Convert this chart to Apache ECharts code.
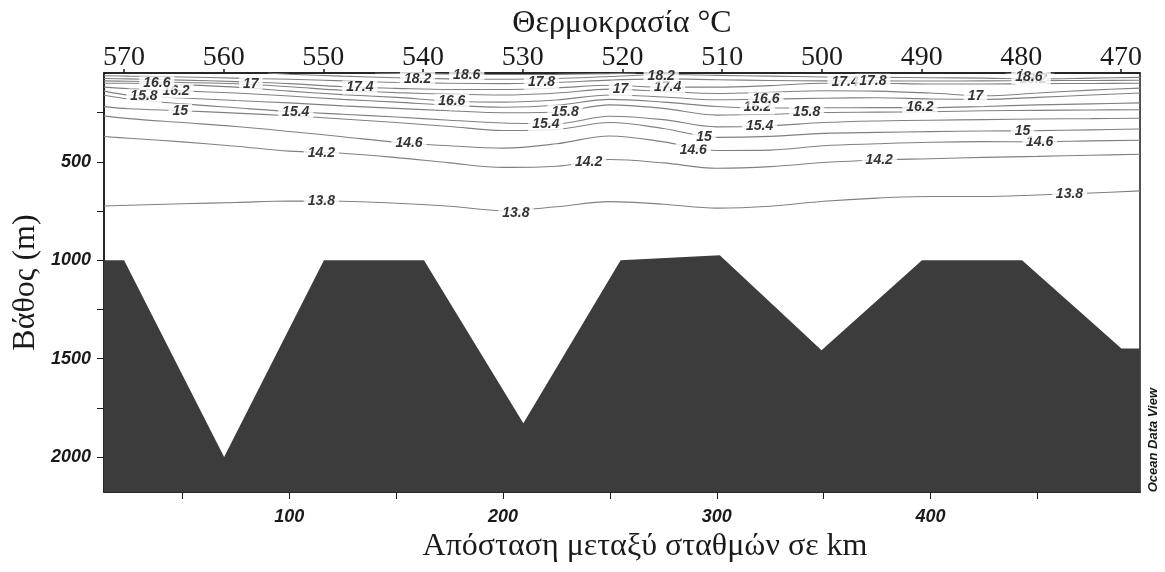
<!DOCTYPE html>
<html>
<head>
<meta charset="utf-8">
<script src="https://cdn.jsdelivr.net/npm/echarts@6/dist/echarts.min.js"></script>
<style>
html,body{margin:0;padding:0;background:#fff;}
#chart{width:1165px;height:572px;}
</style>
</head>
<body>
<div id="chart"></div>
<script>
// ---- data ----
const kmCols  = [13.3,25,50,75,100,125,150,175,200,225,250,275,300,325,350,375,400,425,450,475,498];
const iso13_8 = [724,720,713,706,699,700,710,725,748,728,702,715,735,725,700,684,676,676,668,658,647];
const iso14_2 = [371,380,398,420,445,456,478,505,528,522,488,505,532,524,503,490,484,477,472,466,461];
const iso14_6 = [266,280,300,320,345,372,400,418,430,408,368,398,442,440,418,408,400,397,398,393,390];
const iso15   = [219,230,240,252,265,282,300,320,340,335,300,330,375,370,355,350,346,343,341,337,333];
const iso15_4 = [161,180,205,225,244,258,272,288,302,305,268,285,322,316,300,292,288,285,282,280,278];
const iso15_8 = [140,160,175,188,200,215,228,240,250,246,210,228,262,258,249,247,245,240,238,236,235];
const iso16_2 = [120,128,139,150,165,182,196,212,222,212,182,196,218,226,225,224,224,218,210,205,200];
const iso16_6 = [100,100,108,120,140,158,172,190,196,185,160,170,184,181,176,174,180,182,172,160,150];
const iso17   = [88,90,96,103,118,136,148,156,160,150,130,142,152,146,138,140,150,164,150,135,125];
const iso17_4 = [76,78,84,92,102,118,126,132,132,124,110,120,120,112,100,100,104,104,102,101,100];
const iso17_8 = [62,64,68,74,80,88,96,100,102,96,84,78,82,86,88,88,89,88,87,86,85];
const km18_2  = [90,100,125,150,175,200,225,250,275,300,325,350,375,400,425,450,475,498];
const iso18_2 = [48,54,64,72,78,80,76,66,56,60,64,68,70,72,74,78,74,70];
const km18_6a = [140,160,180,200,225,250,262];
const iso18_6a= [48,51,54,56,55,51,48];
const km18_6b = [435,446,458];
const iso18_6b= [48,58,48];

const labelText  = ['13.8','13.8','13.8','14.2','14.2','14.2','14.6','14.6','14.6','15','15','15','15.4','15.4','15.4','15.8','15.8','15.8','16.2','16.2','16.2','16.6','16.6','16.6','17','17','17','17.4','17.4','17.4','17.8','17.8','18.2','18.2','18.2','18.6','18.6'];
const labelKm    = [115,206,465,115,240,376,156,289,451,49,294,443,103,220,320,32,229,342,47,319,395,38,176,323,82,255,421,133,277,360,218,373,160,274,448,183,446];
const labelDepth = [698,758,662,456,503,490,405,440,400,240,376,342,246,308,317,168,246,249,139,224,224,100,190,181,105,130,164,122,122,97,97,88,79,62,79,60,70];

const bathyKm    = [13.3,22.7,69.5,116.2,163,209.5,255,301.4,349,396,442.8,489.3,498];
const bathyDepth = [1000,1000,2000,1000,1000,1829,1000,975,1457,1000,1000,1448,1448];

const kmTicks      = [50,100,150,200,250,300,350,400,450];
const kmLabels     = [100,200,300,400];
const depthTicks   = [250,500,750,1000,1250,1500,1750,2000];
const depthLabels  = [500,1000,1500,2000];
const stationTicks = [470,480,490,500,510,520,530,540,550,560,570];

// ---- build ----
const sans = '"Liberation Sans", Arial, sans-serif';
const serif = '"Liberation Serif", "Times New Roman", serif';

function pairs(xs, ys){ return xs.map((x,i)=>[x, ys[i]]); }
function contour(xs, ys){
  return {
    type:'line', data:pairs(xs, ys), xAxisIndex:0, yAxisIndex:0,
    showSymbol:false, symbol:'none', smooth:0.35, silent:true, z:3,
    lineStyle:{color:'#808080', width:1.1}
  };
}
const isoSets = [
  [kmCols, iso13_8],[kmCols, iso14_2],[kmCols, iso14_6],[kmCols, iso15],
  [kmCols, iso15_4],[kmCols, iso15_8],[kmCols, iso16_2],[kmCols, iso16_6],
  [kmCols, iso17],[kmCols, iso17_4],[kmCols, iso17_8],[km18_2, iso18_2],
  [km18_6a, iso18_6a],[km18_6b, iso18_6b]
];
const series = isoSets.map(s=>contour(s[0], s[1]));

series.push({
  type:'scatter', xAxisIndex:0, yAxisIndex:0, symbolSize:0, silent:true, z:10,
  data: labelText.map((t,i)=>({name:t, value:[labelKm[i], labelDepth[i]]})),
  label:{
    show:true, position:'inside', formatter:'{b}',
    fontFamily:sans, fontStyle:'italic', fontWeight:'bold', fontSize:14,
    color:'#000000', backgroundColor:'#ffffff', padding:[0,4]
  }
});

series.push({
  type:'line', xAxisIndex:0, yAxisIndex:0, data:pairs(bathyKm, bathyDepth),
  showSymbol:false, symbol:'none', silent:true, z:6,
  lineStyle:{width:0, color:'#3c3c3c'},
  areaStyle:{color:'#3c3c3c', opacity:1, origin:'end'}
});

const plain = v => String(v);

const chart = echarts.init(document.getElementById('chart'), null, {renderer:'canvas'});
chart.setOption({
  animation:false,
  backgroundColor:'#ffffff',
  grid:{left:104, right:25, top:73, bottom:80, outerBoundsMode:'none', containLabel:false,
        show:true, borderColor:'#1a1a1a', borderWidth:1.5, backgroundColor:'transparent'},
  xAxis:[
    {
      type:'value', position:'bottom', min:13.3, max:498,
      splitLine:{show:false},
      axisLine:{show:true, onZero:false, lineStyle:{color:'#1a1a1a', width:1.5}},
      axisTick:{show:true, inside:false, length:7, customValues:kmTicks, lineStyle:{color:'#1a1a1a', width:1}},
      axisLabel:{customValues:kmLabels, formatter:plain, margin:16, fontFamily:sans, fontStyle:'italic', fontWeight:'bold', fontSize:18, color:'#1a1a1a'},
      name:'Απόσταση μεταξύ σταθμών σε km', nameLocation:'middle', nameGap:36,
      nameTextStyle:{fontFamily:serif, fontSize:32, color:'#1a1a1a', padding:[0,0,0,46]}
    },
    {
      type:'value', position:'top', min:468.1, max:572, inverse:true,
      splitLine:{show:false},
      axisLine:{show:true, onZero:false, lineStyle:{color:'#1a1a1a', width:1.5}},
      axisTick:{show:true, inside:false, length:4, customValues:stationTicks, lineStyle:{color:'#1a1a1a', width:1.5}},
      axisLabel:{customValues:stationTicks, formatter:plain, margin:1, fontFamily:serif, fontSize:28, color:'#1a1a1a'},
      name:'Θερμοκρασία °C', nameLocation:'middle', nameGap:25,
      nameTextStyle:{fontFamily:serif, fontSize:32, color:'#1a1a1a'}
    }
  ],
  yAxis:[{
    type:'value', inverse:true, min:48, max:2178,
    splitLine:{show:false},
    axisLine:{show:true, onZero:false, lineStyle:{color:'#1a1a1a', width:1.5}},
    axisTick:{show:true, inside:false, length:7, customValues:depthTicks, lineStyle:{color:'#1a1a1a', width:1}},
    axisLabel:{customValues:depthLabels, formatter:plain, margin:13, fontFamily:sans, fontStyle:'italic', fontWeight:'bold', fontSize:18, color:'#1a1a1a'},
    name:'Βάθος (m)', nameLocation:'middle', nameGap:62, nameRotate:90, nameMoveOverlap:false,
    nameTextStyle:{fontFamily:serif, fontSize:32, color:'#1a1a1a'}
  }],
  graphic:[{
    type:'text', left:1147, top:388, rotation:Math.PI/2,
    style:{text:'Ocean Data View', fontFamily:sans, fontStyle:'italic', fontWeight:'bold', fontSize:13, fill:'#1a1a1a'}
  }],
  series:series
});
</script>
</body>
</html>
